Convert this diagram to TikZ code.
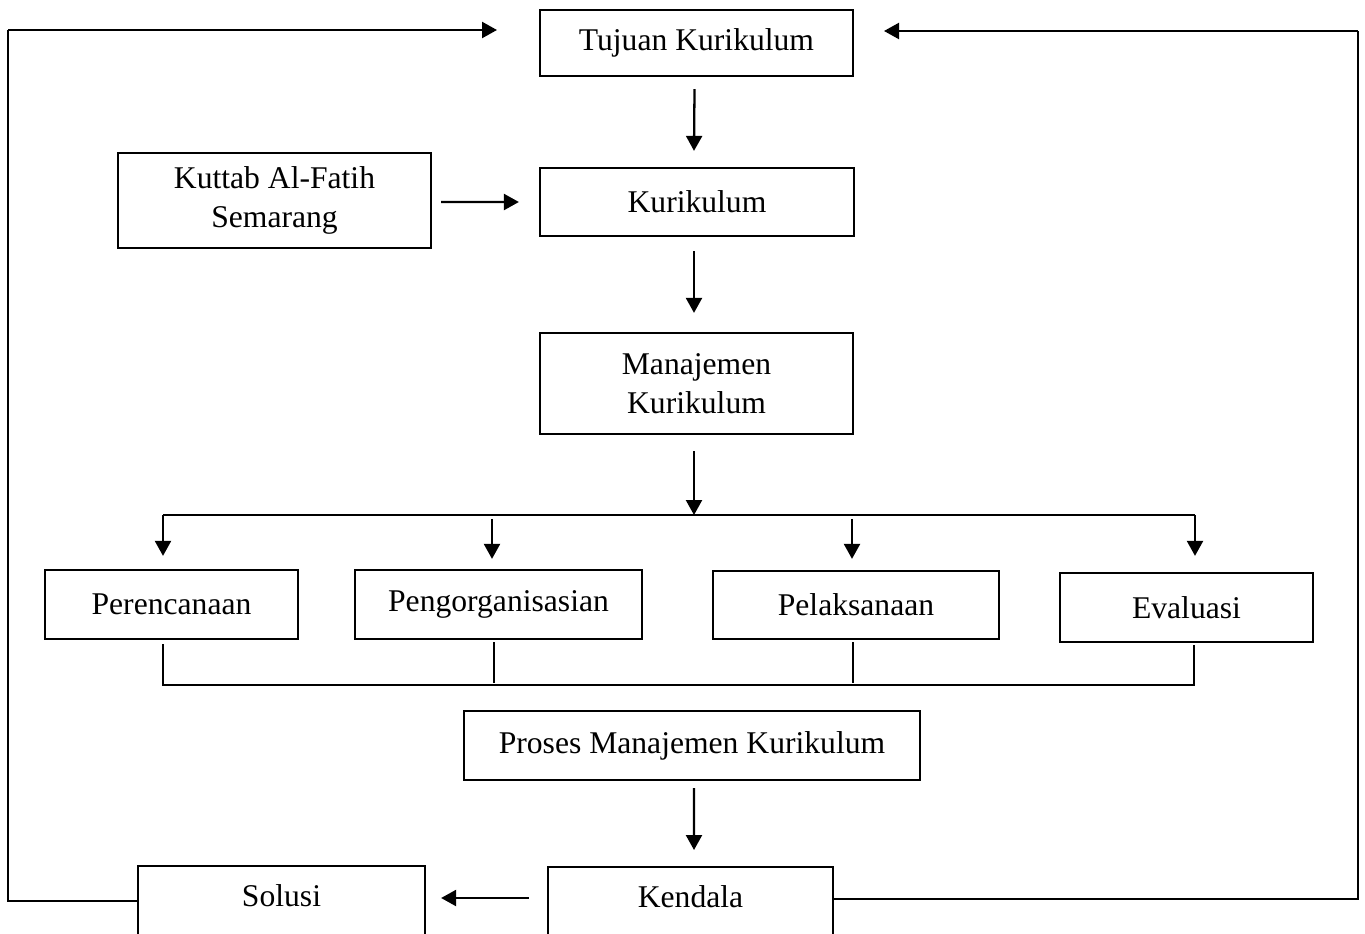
\documentclass[tikz,border=0pt]{standalone}
\usepackage{fontspec}
\setmainfont{Liberation Serif}
\usetikzlibrary{arrows.meta,calc}
\begin{document}
\begin{tikzpicture}[x=0.02cm,y=-0.02cm,
 box/.style={draw,line width=1.3pt,align=center,inner sep=0pt,font=\fontsize{18}{22}\selectfont},
 arr/.style={line width=1.3pt,-{Triangle[length=0.3cm,width=0.32cm]}},
 thinln/.style={line width=0.7pt}]
\useasboundingbox (0,0) rectangle (1365,933);
\clip (0,0) rectangle (1365,933);
% boxes
\node[box,minimum width=6.26cm,minimum height=1.32cm] (tujuan) at (696.5,43) {Tujuan Kurikulum};
\node[box,minimum width=6.28cm,minimum height=1.36cm] (kur) at (697,202) {Kurikulum};
\node[box,minimum width=6.26cm,minimum height=1.9cm] (kuttab) at (274.5,200.5) {Kuttab Al-Fatih\\Semarang};
\node[box,minimum width=6.26cm,minimum height=2.02cm] (man) at (696.5,383.5) {Manajemen\\Kurikulum};
\node[box,minimum width=5.06cm,minimum height=1.38cm] (per) at (171.5,604.5) {Perencanaan};
\node[box,minimum width=5.74cm,minimum height=1.38cm] (peng) at (498.5,604.5) {Pengorganisasian};
\node[box,minimum width=5.72cm,minimum height=1.36cm] (pel) at (856,605) {Pelaksanaan};
\node[box,minimum width=5.06cm,minimum height=1.38cm] (eva) at (1186.5,607.5) {Evaluasi};
\node[box,minimum width=9.12cm,minimum height=1.38cm] (pros) at (692,745.5) {Proses Manajemen Kurikulum};
\node[box,anchor=north,minimum width=5.74cm,text height=0.8cm,text depth=1cm] (sol) at (281.5,865) {Solusi};
\node[box,anchor=north,minimum width=5.7cm,text height=0.8cm,text depth=1cm] (ken) at (690.5,866) {Kendala};
% feedback loops
\coordinate (lt) at (8,30);
\coordinate (ltend) at (497,30);
\coordinate (lb) at (8,901);
\draw[thinln] (lb -| sol.west) -- (lb) -- (lt);
\draw[arr] (lt) -- (ltend);
\coordinate (rt) at (1358,31);
\coordinate (rtend) at (884,31);
\coordinate (rb) at (1358,899);
\draw[thinln] (rb -| ken.east) -- (rb) -- (rt);
\draw[arr] (rt) -- (rtend);
% main flow
\draw[arr] ($(tujuan.south)+(-2,12)$) -- ($(kur.north)+(-3,-16)$);
\draw[arr] ($(kuttab.east)+(9,1.5)$) -- ($(kur.west)+(-20,0)$);
\draw[arr] ($(kur.south)+(-3,14)$) -- ($(man.north)+(-2.5,-19)$);
\coordinate (br) at (694,515);
\draw[arr] ($(man.south)+(-2.5,16)$) -- (br);
\coordinate (bl) at (163,515);
\coordinate (brr) at (1195,515);
\draw[thinln] (bl) -- (brr);
\draw[arr] (bl) -- ($(bl |- per.north)+(0,-13)$);
\draw[arr] ($(peng.north)+(-6.5,-50)$) -- ($(peng.north)+(-6.5,-10)$);
\draw[arr] ($(pel.north)+(-4,-51)$) -- ($(pel.north)+(-4,-11)$);
\draw[arr] (brr) -- ($(brr |- eva.north)+(0,-16)$);
% bracket below the four steps
\coordinate (bb1) at (163,685);
\coordinate (bb4) at (1194,685);
\draw[thinln] ($(bb1 |- per.south)+(0,4)$) -- (bb1) -- (bb4) -- ($(bb4 |- eva.south)+(0,2)$);
\draw[thinln] ($(peng.south)+(-4.5,2)$) -- ($(peng.south)+(-4.5,43)$);
\draw[thinln] ($(pel.south)+(-3,2)$) -- ($(pel.south)+(-3,43)$);
% to Kendala and Solusi
\draw[arr] ($(pros.south)+(2,7)$) -- ($(ken.north)+(3.5,-16)$);
\draw[arr] ($(ken.north west)+(-18,32)$) -- ($(sol.north east)+(15,33)$);
\end{tikzpicture}
\end{document}
